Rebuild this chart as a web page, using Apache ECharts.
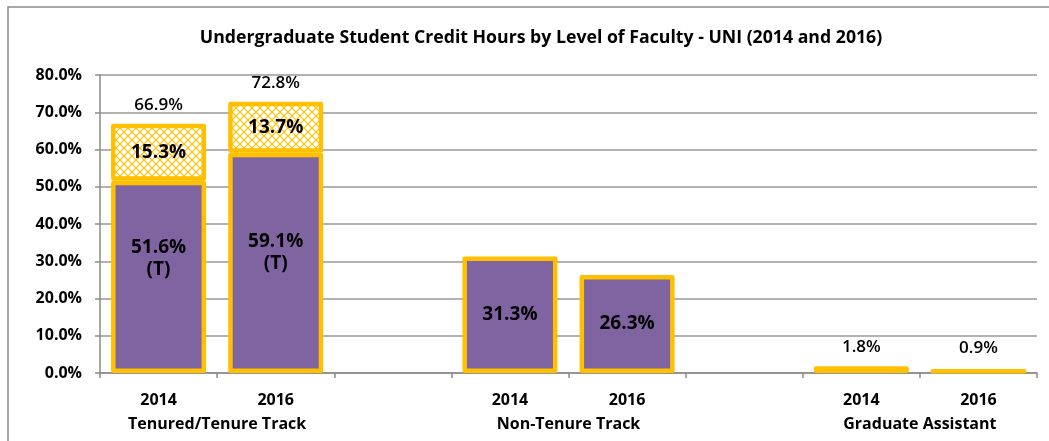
<html>
<head>
<meta charset="utf-8">
<title></title>
<script src="https://cdn.jsdelivr.net/npm/echarts@6/dist/echarts.min.js"></script>
<style>
  body { margin: 0; background: #fff; }
  #main { width: 1049px; height: 441px; }
</style>
</head>
<body>
<div id="main"></div>
<script>
// chart data
var years = ['2014', '2016', '', '2014', '2016', '', '2014', '2016'];
var groupNames = ['Tenured/Tenure Track', 'Non-Tenure Track', 'Graduate Assistant'];
var groupAt = [1, 4, 7];   // group label sits on the boundary between its two years
var baseVals = [51.6, 59.1, null, 31.3, 26.3, null, 1.8, 0.9];
var baseNotes = ['(T)', '(T)', '', '', '', '', '', ''];
var topVals = [15.3, 13.7, null, null, null, null, null, null];
var totals = [66.9, 72.8, null, null, null, null, null, null];
var yTicks = [0, 10, 20, 30, 40, 50, 60, 70, 80];

var font = '"Open Sans", "Noto Sans", sans-serif';
var purple = '#8064A2';
var gold = '#FFC000';

// crosshatch fill for the top segment
function makeHatch() {
    var c = document.createElement('canvas');
    c.width = 8; c.height = 8;
    var ctx = c.getContext('2d');
    ctx.fillStyle = '#fff';
    ctx.fillRect(0, 0, 8, 8);
    ctx.strokeStyle = gold;
    ctx.lineWidth = 1.2;
    ctx.beginPath();
    ctx.moveTo(0, 0); ctx.lineTo(8, 8);
    ctx.moveTo(8, 0); ctx.lineTo(0, 8);
    ctx.stroke();
    return c;
}

window.onload = function () {
    var myChart = echarts.init(document.getElementById('main'), null, {renderer: 'canvas'});

    var baseData = baseVals.map(function (v, i) {
        if (v == null) return '-';
        var small = v < 5;
        return {
            value: v,
            label: {
                position: small ? 'top' : 'inside',
                fontWeight: small ? 600 : 'bold',
                fontSize: small ? 17 : 19,
                distance: v < 1 ? 10 : 8,
                offset: baseNotes[i] ? [0, i === 0 ? -18 : -10] : [0, 0]
            }
        };
    });

    var totalData = totals.map(function (v) { return v == null ? '-' : 0; });

    var option = {
        animation: false,
        title: {
            text: 'Undergraduate Student Credit Hours by Level of Faculty - UNI (2014 and 2016)',
            left: 536,
            textAlign: 'center',
            top: 24,
            textStyle: {fontFamily: font, fontSize: 17.7, fontWeight: 'bold', color: '#000'}
        },
        graphic: [{
            type: 'rect',
            shape: {x: 8, y: 7, width: 1100, height: 500},
            style: {fill: 'none', stroke: '#8a8a8a', lineWidth: 1.5},
            silent: true
        }],
        grid: {left: 100, right: 12, top: 75, bottom: 68},
        xAxis: [{
            type: 'category',
            data: years,
            axisLine: {lineStyle: {color: '#8a8a8a', width: 1.5}},
            axisTick: {show: true, length: 5, lineStyle: {color: '#8a8a8a', width: 1.5}},
            axisLabel: {fontFamily: font, fontSize: 16, fontWeight: 'bold', color: '#000', margin: 19, interval: 0}
        }, {
            type: 'value',
            min: 0,
            max: years.length,
            interval: 1,
            position: 'bottom',
            axisLine: {show: false},
            axisTick: {show: false},
            splitLine: {show: false},
            axisLabel: {
                fontFamily: font, fontSize: 16, fontWeight: 'bold', color: '#000', margin: 43,
                formatter: function (v) {
                    var k = groupAt.indexOf(v);
                    return k >= 0 ? groupNames[k] : '';
                }
            }
        }],
        yAxis: {
            type: 'value',
            min: yTicks[0],
            max: yTicks[yTicks.length - 1],
            interval: yTicks[1] - yTicks[0],
            axisLine: {show: true, lineStyle: {color: '#8a8a8a', width: 1.5}},
            axisTick: {show: true, length: 5, lineStyle: {color: '#8a8a8a', width: 1.5}},
            splitLine: {lineStyle: {color: '#999', width: 1.5}},
            axisLabel: {
                fontFamily: font, fontSize: 16, fontWeight: 'bold', color: '#000', margin: 18,
                formatter: function (v) { return v.toFixed(1) + '%'; }
            }
        },
        series: [{
            name: 'base',
            type: 'bar',
            stack: 'all',
            barWidth: 95,
            data: baseData,
            itemStyle: {color: purple, borderColor: gold, borderWidth: 4.5, borderJoin: 'round'},
            label: {
                show: true,
                fontFamily: font,
                color: '#000',
                lineHeight: 22,
                formatter: function (p) {
                    var n = baseNotes[p.dataIndex];
                    return p.value.toFixed(1) + '%' + (n ? '\n' + n : '');
                }
            },
            z: 2
        }, {
            name: 'top',
            type: 'bar',
            stack: 'all',
            barWidth: 95,
            data: topVals.map(function (v) { return v == null ? '-' : v; }),
            itemStyle: {color: {image: makeHatch(), repeat: 'repeat'}, borderColor: gold, borderWidth: 4.5, borderJoin: 'round'},
            label: {
                show: true,
                position: 'inside',
                fontFamily: font,
                fontSize: 19,
                fontWeight: 'bold',
                color: '#000',
                formatter: function (p) { return p.value.toFixed(1) + '%'; }
            },
            z: 2
        }, {
            name: 'total',
            type: 'bar',
            stack: 'all',
            barWidth: 95,
            data: totalData,
            itemStyle: {color: 'transparent', borderWidth: 0},
            label: {
                show: true,
                position: 'top',
                distance: 10,
                fontFamily: font,
                fontSize: 17,
                fontWeight: 600,
                color: '#000',
                formatter: function (p) { return totals[p.dataIndex].toFixed(1) + '%'; }
            },
            z: 3
        }]
    };

    myChart.setOption(option);
};
</script>
</body>
</html>
